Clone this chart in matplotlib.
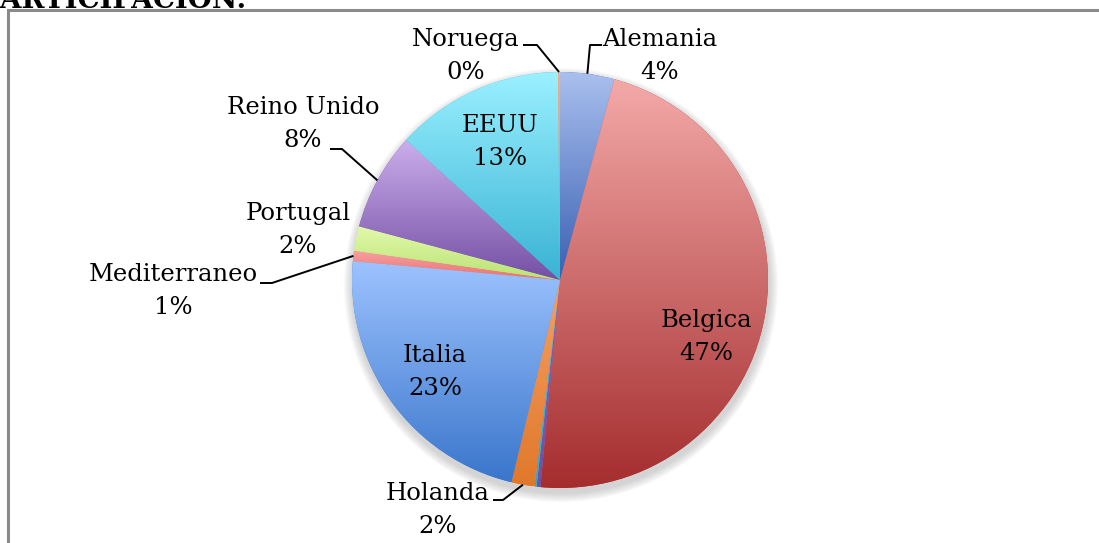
import matplotlib
matplotlib.use("Agg")
import matplotlib.pyplot as plt
import numpy as np
from matplotlib.colors import LinearSegmentedColormap
from matplotlib.patches import Circle, Rectangle

# slice data, clockwise from 12 o'clock
categories = ["Alemania", "Belgica", "Otro A", "Otro B", "Holanda", "Italia",
              "Mediterraneo", "Portugal", "Reino Unido", "EEUU", "Noruega"]
shares = [4.2, 47.3, 0.3, 0.15, 1.8, 22.7, 0.8, 1.9, 7.6, 13.1, 0.15]
show_label = [True, True, False, False, True, True, True, True, True, True, True]

# gradient colours (top, bottom) per slice
top_colors = ["#a9bfee", "#f3a9a8", "#8a63b6", "#45c0da", "#f6a064", "#9dc3ff",
              "#f8a0a0", "#e2f9ab", "#cbaeec", "#9af0ff", "#f0b088"]
bottom_colors = ["#3a60b3", "#a52d2e", "#7150a0", "#34a8c8", "#e0782a", "#3a76cb",
                 "#e87272", "#b9e273", "#7450a4", "#38b3d4", "#e08a5a"]

W, H = 1099, 543
CX, CY, R = 560, H - 280, 208
FONT = "DejaVu Serif"

# label block centre (image px), and leader elbow (start, knee)
label_pos = {
    "Alemania": (660, 56), "Belgica": (706, 337), "Holanda": (438, 510),
    "Italia": (435, 372), "Mediterraneo": (173, 291), "Portugal": (298, 230),
    "Reino Unido": (303, 124), "EEUU": (500, 142), "Noruega": (466, 56),
}
leaders = {
    "Noruega": ((523, 45), (537, 45)),
    "Alemania": ((602, 45), (590, 45)),
    "Reino Unido": ((330, 149), (342, 149)),
    "Mediterraneo": ((260, 283), (272, 283)),
    "Holanda": ((493, 500), (503, 500)),
}

fig = plt.figure(figsize=(W / 100, H / 100), dpi=100)
ax = fig.add_axes([0, 0, 1, 1])

# frame of the chart area
ax.add_patch(Rectangle((8, -20), W + 20, H - 10 + 20, fill=False,
                       edgecolor="#8a8a8a", linewidth=2.2, zorder=1))

# title cut off at the top
ax.text(247, H - 8, "PARTICIPACION:", ha="right", va="baseline",
        fontsize=20, fontweight="bold", family=FONT, zorder=5)

# soft shadow under the pie
for i in range(10):
    ax.add_patch(Circle((CX + 1, CY - 5), R + 1 + i * 0.9, color="#808080",
                        alpha=0.035, linewidth=0, zorder=1.5))
ax.add_patch(Circle((CX, CY), R, color="white", linewidth=0, zorder=1.8))

wedges, _ = ax.pie(shares, startangle=90, counterclock=False, center=(CX, CY),
                   radius=R, colors=bottom_colors, frame=True,
                   wedgeprops=dict(linewidth=0))

for w, c_top, c_bot in zip(wedges, top_colors, bottom_colors):
    w.set_zorder(2)
    ext = w.get_path().get_extents()
    cmap = LinearSegmentedColormap.from_list("g", [c_bot, c_top])
    grad = np.linspace(0, 1, 256).reshape(-1, 1)
    im = ax.imshow(grad, cmap=cmap, origin="lower", aspect="auto",
                   extent=(ext.x0, ext.x1, ext.y0, ext.y1), zorder=2.5,
                   interpolation="bilinear")
    im.set_clip_path(w)

cum = np.cumsum([0] + shares)
total = cum[-1]
for i, name in enumerate(categories):
    if not show_label[i]:
        continue
    pct = f"{shares[i] / total * 100:.0f}%"
    lx, ly = label_pos[name]
    ax.text(lx, H - ly, f"{name}\n{pct}", ha="center", va="center",
            fontsize=17.5, family=FONT, linespacing=1.55,
            color="black", zorder=6)
    if name in leaders:
        mid = (cum[i] + cum[i + 1]) / 2 / total * 2 * np.pi
        ex = CX + R * np.sin(mid)
        ey = CY + R * np.cos(mid)
        (sx, sy), (kx, ky) = leaders[name]
        ax.plot([sx, kx, ex], [H - sy, H - ky, ey], color="black",
                linewidth=1.4, zorder=6, solid_capstyle="butt")

ax.set_xlim(0, W)
ax.set_ylim(0, H)
ax.set_aspect("equal")
ax.axis("off")

fig.savefig("out.png", dpi=100)
